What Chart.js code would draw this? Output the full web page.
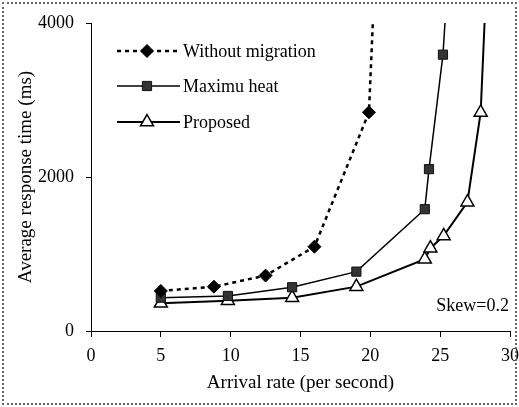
<!DOCTYPE html>
<html><head><meta charset="utf-8">
<script src="https://cdn.jsdelivr.net/npm/chart.js@4/dist/chart.umd.min.js"></script>
<style>
html,body{margin:0;padding:0;background:#fff;overflow:hidden}
#wrap{position:relative;width:519px;height:407px}
#frame{position:absolute;left:2px;top:2px;width:515px;height:403px;border:2px dotted #666;box-sizing:border-box;pointer-events:none}
canvas{position:absolute;left:0;top:0}
</style></head><body>
<div id="wrap"><canvas id="c" width="519" height="407"></canvas><div id="frame"></div></div>
<script>
// ---- data ----
const seriesNames = ['Without migration', 'Maximu heat', 'Proposed'];
const withoutX = [5.0, 8.8, 12.5, 16.0, 19.9, 20.25];
const withoutY = [520, 575, 720, 1095, 2840, 4300];
const heatX = [5.0, 9.8, 14.4, 19.0, 23.9, 24.2, 25.2, 25.45];
const heatY = [433, 455, 568, 771, 1582, 2102, 3589, 4300];
const propX = [5.0, 9.8, 14.4, 19.0, 23.9, 24.3, 25.25, 26.95, 27.9, 28.25];
const propY = [360, 394, 433, 576, 932, 1075, 1235, 1673, 2839, 4300];
const xTicks = [0, 5, 10, 15, 20, 25, 30];
const yTicks = [0, 2000, 4000];
const xTitle = 'Arrival rate (per second)';
const yTitle = 'Average response time (ms)';
const note = 'Skew=0.2';

const pts = (xs, ys) => xs.map((x, i) => ({x, y: ys[i]}));
const radii = (n, r) => Array.from({length: n}, (_, i) => i === n - 1 ? 0 : r);
const FONT = 'Liberation Serif, Times New Roman, serif';

const datasets = [
  {label: seriesNames[0], data: pts(withoutX, withoutY), borderColor: '#000', backgroundColor: '#000',
   borderWidth: 2.5, borderDash: [4, 4], pointStyle: 'rectRot', pointRadius: radii(withoutX.length, 6.5),
   pointBorderWidth: 1, pointBackgroundColor: '#000', pointBorderColor: '#000'},
  {label: seriesNames[1], data: pts(heatX, heatY), borderColor: '#000', backgroundColor: '#222',
   borderWidth: 1.5, pointStyle: 'rect', pointRadius: radii(heatX.length, 6.5),
   pointBorderWidth: 1, pointBackgroundColor: '#333', pointBorderColor: '#111'},
  {label: seriesNames[2], data: pts(propX, propY), borderColor: '#000', backgroundColor: '#fff',
   borderWidth: 2, pointStyle: 'triangle', pointRadius: radii(propX.length, 7.5),
   pointBorderWidth: 1.5, pointBackgroundColor: '#fff', pointBorderColor: '#000'}
];

const legendPlugin = {
  id: 'customLegend',
  afterDatasetsDraw(chart) {
    const ctx = chart.ctx;
    const rows = [51, 86, 122];
    const x0 = 117, x1 = 180, mx = 147, tx = 183;
    chart.data.datasets.forEach((ds, i) => {
      const y = rows[i];
      ctx.save();
      ctx.strokeStyle = ds.borderColor;
      ctx.lineWidth = ds.borderWidth;
      ctx.setLineDash(ds.borderDash || []);
      ctx.beginPath(); ctx.moveTo(x0, y); ctx.lineTo(x1, y); ctx.stroke();
      ctx.setLineDash([]);
      ctx.fillStyle = ds.pointBackgroundColor;
      ctx.strokeStyle = ds.pointBorderColor;
      ctx.lineWidth = ds.pointBorderWidth;
      const r = Array.isArray(ds.pointRadius) ? ds.pointRadius[0] : ds.pointRadius;
      Chart.helpers.drawPoint(ctx, {pointStyle: ds.pointStyle, radius: r, borderWidth: ds.pointBorderWidth, rotation: 0}, mx, y);
      ctx.fillStyle = '#000';
      ctx.font = '18px ' + FONT;
      ctx.textAlign = 'left';
      ctx.textBaseline = 'middle';
      ctx.fillText(ds.label, tx, y + 1);
      ctx.restore();
    });
    ctx.save();
    ctx.fillStyle = '#000';
    ctx.font = '18px ' + FONT;
    ctx.textAlign = 'right';
    ctx.textBaseline = 'middle';
    ctx.fillText(note, 509, 306);
    ctx.restore();
  }
};

new Chart(document.getElementById('c'), {
  type: 'line',
  data: {datasets},
  plugins: [legendPlugin],
  options: {
    responsive: false,
    animation: false,
    devicePixelRatio: 1,
    layout: {padding: {left: 11, top: 23, right: 7, bottom: 9}},
    plugins: {legend: {display: false}, tooltip: {enabled: false}},
    elements: {line: {tension: 0, fill: false}},
    scales: {
      x: {
        type: 'linear', min: 0, max: 30,
        afterBuildTicks: s => { s.ticks = xTicks.map(v => ({value: v})); },
        afterFit: s => { s.height = 67; s.paddingLeft = 0; s.paddingRight = 0; },
        ticks: {color: '#000', font: {family: FONT, size: 18}, padding: 8, maxRotation: 0, autoSkip: false,
                callback: v => String(v)},
        grid: {drawOnChartArea: false, drawTicks: true, tickLength: 6, color: '#000'},
        border: {display: true, color: '#000', width: 1},
        title: {display: true, text: xTitle, color: '#000', font: {family: FONT, size: 19}, padding: {top: 4, bottom: 4}}
      },
      y: {
        type: 'linear', min: 0, max: 4000,
        afterBuildTicks: s => { s.ticks = yTicks.map(v => ({value: v})); },
        afterFit: s => { s.width = 80; s.paddingTop = 0; s.paddingBottom = 0; },
        ticks: {color: '#000', font: {family: FONT, size: 18}, padding: 12, autoSkip: false,
                callback: v => String(v)},
        grid: {drawOnChartArea: false, drawTicks: true, tickLength: 5, color: '#000'},
        border: {display: true, color: '#000', width: 1},
        title: {display: true, text: yTitle, color: '#000', font: {family: FONT, size: 19}, padding: {top: 4, bottom: 4}}
      }
    }
  }
});
</script>
</body></html>
